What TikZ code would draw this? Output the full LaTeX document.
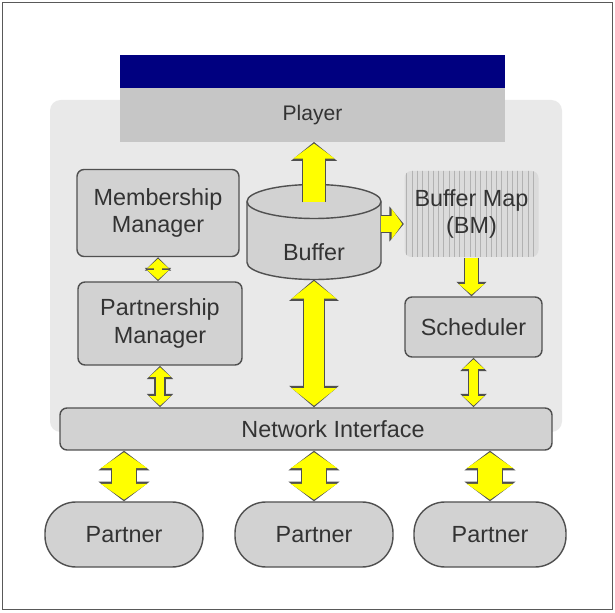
\documentclass[tikz,border=0pt]{standalone}
\usepackage{fontspec}
\setmainfont{Liberation Sans}
\usetikzlibrary{arrows.meta,patterns}
\definecolor{navybar}{RGB}{0,0,128}
\definecolor{panelgray}{RGB}{233,233,233}
\definecolor{boxgray}{RGB}{210,210,210}
\definecolor{playergray}{RGB}{198,198,198}
\definecolor{arrowyellow}{RGB}{255,255,0}
\definecolor{edgegray}{RGB}{80,80,80}
\tikzset{
  yarrow/.style n args={3}{line width=#1, draw=arrowyellow, shorten >=0.9pt,
    arrows={-Triangle[width=#2,length=#3]},
    preaction={draw=edgegray, line width=#1+1.3pt, shorten >=0pt,
      arrows={-Triangle[width=#2+2.6pt,length=#3+2.2pt]}}},
  ydarrow/.style n args={3}{line width=#1, draw=arrowyellow, shorten >=0.9pt, shorten <=0.9pt,
    arrows={Triangle[width=#2,length=#3]-Triangle[width=#2,length=#3]},
    preaction={draw=edgegray, line width=#1+1.3pt, shorten >=0pt, shorten <=0pt,
      arrows={Triangle[width=#2+2.6pt,length=#3+2.2pt]-Triangle[width=#2+2.6pt,length=#3+2.2pt]}}}
}
\begin{document}
\begin{tikzpicture}
    \tikzstyle{box}=[rectangle, rounded corners=4pt, draw=edgegray, line width=0.8pt, fill=boxgray,
                     text=black!80, font=\fontsize{13.3}{15.5}\selectfont, align=center]
    \tikzstyle{boxtext}=[text=black!80, font=\fontsize{13.3}{15.5}\selectfont]
    \useasboundingbox (0,0) rectangle (12.3,12.24);
    \draw[gray!70!black, line width=1pt] (0.05,0.05) rectangle (12.25,12.19);

    \node[fill=panelgray, rounded corners=6pt, minimum width=10.24cm, minimum height=6.64cm] (panel) at (6.12,6.92) {};
    \node[fill=playergray, outer sep=0pt, minimum width=7.7cm, minimum height=1.08cm,
          text=black!80, font=\fontsize{12}{14}\selectfont] (player) at (6.25,9.94) {Player};
    \node[fill=navybar, outer sep=0pt, inner sep=0pt, minimum width=7.7cm, minimum height=0.66cm,
          anchor=south] (bar) at (player.north) {};

    \node[box, minimum width=3.24cm, minimum height=1.74cm] (member) at (3.16,7.98) {Membership\\Manager};
    \node[box, minimum width=3.28cm, minimum height=1.66cm] (partnership) at (3.2,5.77) {Partnership\\Manager};

    \node[inner sep=0pt, outer sep=0pt, minimum width=2.68cm, minimum height=1.9cm] (buffer) at (6.28,7.6) {};
    \draw[draw=edgegray, line width=0.8pt, fill=boxgray]
        ([yshift=-0.34cm]buffer.north west) -- ([yshift=0.34cm]buffer.south west)
        arc[start angle=180, end angle=360, x radius=1.34cm, y radius=0.34cm]
        -- ([yshift=-0.34cm]buffer.north east)
        arc[start angle=0, end angle=180, x radius=1.34cm, y radius=0.34cm] -- cycle;
    \draw[draw=edgegray, line width=0.8pt] ([yshift=-0.34cm]buffer.north east)
        arc[start angle=0, end angle=-180, x radius=1.34cm, y radius=0.34cm];
    \node[boxtext] (buftext) at ([yshift=-0.4cm]buffer.center) {Buffer};

    \node[box, draw=none, preaction={fill=boxgray!80}, pattern=vertical lines, pattern color=gray!60,
          minimum width=2.68cm, minimum height=1.72cm] (bm) at (9.43,7.96) {Buffer Map\\(BM)};
    \node[box, minimum width=2.74cm, minimum height=1.2cm] (sched) at (9.47,5.7) {Scheduler};
    \node[box, minimum width=9.84cm, minimum height=0.84cm] (ni) at (6.12,3.66) {\hspace*{1.08cm}Network Interface};

    \node[box, rounded corners=0.62cm, minimum width=3.16cm, minimum height=1.3cm] (p1) at (2.48,1.55) {Partner};
    \node[box, rounded corners=0.62cm, minimum width=3.16cm, minimum height=1.3cm] (p2) at (6.28,1.55) {Partner};
    \node[box, rounded corners=0.62cm, minimum width=3.04cm, minimum height=1.3cm] (p3) at (9.8,1.55) {Partner};

    \draw[yarrow={12pt}{23pt}{8.5pt}] ([yshift=-0.36cm]buffer.north) -- (buffer.north |- player.south);
    \draw[yarrow={9.5pt}{17pt}{6pt}] ([yshift=0.16cm]buffer.east) -- ([yshift=0.16cm]buffer.east -| bm.west);
    \draw[yarrow={7pt}{14pt}{6pt}] (bm.south) -- (bm.south |- sched.north);
    \draw[ydarrow={5pt}{12pt}{5.5pt}] (member.south) -- (member.south |- partnership.north);
    \draw[ydarrow={5pt}{12pt}{5.5pt}] (partnership.south) -- (partnership.south |- ni.north);
    \draw[ydarrow={5pt}{12pt}{5.5pt}] (sched.south) -- (sched.south |- ni.north);
    \draw[ydarrow={11pt}{25pt}{10pt}] (buffer.south) -- (buffer.south |- ni.north);
    \draw[ydarrow={14pt}{26pt}{9pt}] (p1.north |- ni.south) -- (p1.north);
    \draw[ydarrow={14pt}{26pt}{9pt}] (p2.north |- ni.south) -- (p2.north);
    \draw[ydarrow={14pt}{26pt}{9pt}] (p3.north |- ni.south) -- (p3.north);
\end{tikzpicture}
\end{document}
